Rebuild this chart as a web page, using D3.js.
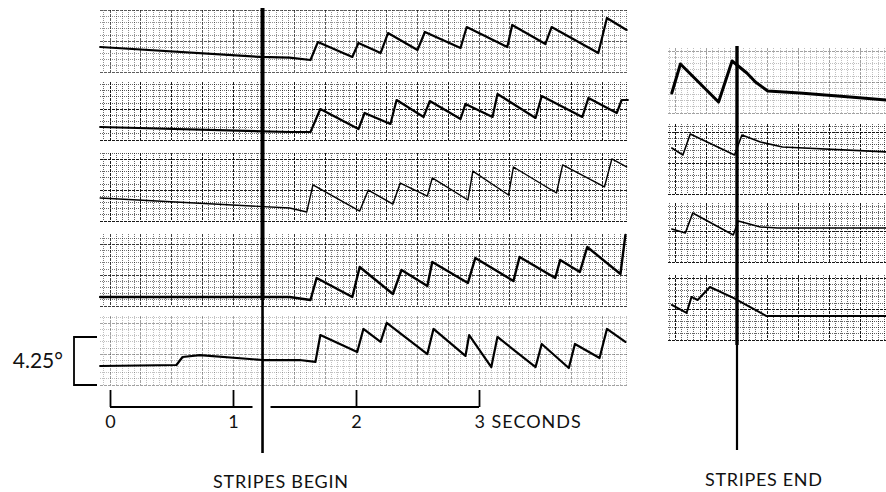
<!DOCTYPE html>
<html>
<head>
<meta charset="utf-8">
<script src="https://cdn.jsdelivr.net/npm/d3@7"></script>
<style>
body { margin: 0; background: #fff; }
svg { display: block; }
text { font-family: Lato, "Noto Sans", sans-serif; fill: #111; }
</style>
</head>
<body>
<div id="chart"></div>
<script>
// eye position traces read off the strips, [time in s, position in deg]
// left block: time from the start of the record
const strip1 = [[-0.08,2.21],[1.22,1.33],[1.46,1.28],[1.63,1.06],[1.69,2.65],[1.97,1.33],[2.02,2.57],[2.20,1.68],[2.26,3.45],[2.50,1.95],[2.56,3.54],[2.85,2.12],[2.90,3.98],[3.23,2.21],[3.27,4.16],[3.54,2.48],[3.59,3.98],[3.97,1.68],[4.04,4.78],[4.20,3.72]];
const strip2 = [[-0.08,1.15],[1.46,0.71],[1.63,0.71],[1.71,2.74],[2.02,0.97],[2.07,2.39],[2.28,1.42],[2.33,3.54],[2.55,2.04],[2.60,3.45],[2.85,1.86],[2.89,3.19],[3.11,2.04],[3.15,4.07],[3.46,1.95],[3.51,3.89],[3.84,2.04],[3.89,3.72],[4.12,2.39],[4.16,3.54],[4.21,3.54]];
const strip3 = [[-0.08,2.04],[1.46,1.15],[1.60,0.80],[1.65,3.19],[2.03,0.88],[2.10,2.74],[2.30,1.50],[2.36,3.36],[2.58,2.21],[2.62,3.81],[2.91,1.86],[2.95,4.42],[3.24,2.30],[3.28,4.78],[3.63,2.48],[3.68,4.96],[4.02,3.01],[4.08,5.49],[4.20,4.78]];
const strip4 = [[-0.08,0.80],[1.46,0.80],[1.63,0.53],[1.68,2.48],[1.97,0.80],[2.03,3.45],[2.30,1.06],[2.37,3.19],[2.58,1.77],[2.62,3.89],[2.91,2.04],[2.97,4.25],[3.28,2.21],[3.33,4.34],[3.62,2.48],[3.66,4.07],[3.82,3.01],[3.88,5.22],[4.15,2.83],[4.19,6.28]];
const strip5 = [[-0.08,1.68],[0.54,1.77],[0.59,2.48],[0.73,2.65],[1.24,2.21],[1.54,2.21],[1.67,2.04],[1.71,4.42],[2.01,2.92],[2.06,4.96],[2.20,3.81],[2.25,5.49],[2.58,2.74],[2.63,4.96],[2.89,2.57],[2.92,4.42],[3.10,1.59],[3.15,4.25],[3.46,1.59],[3.51,3.63],[3.73,1.50],[3.78,3.63],[3.98,2.39],[4.04,4.96],[4.19,3.81]];
// right block: time from the moment the stripes end
const endStrip1 = [[-0.53,1.77],[-0.46,4.34],[-0.15,0.97],[-0.04,4.60],[0.08,3.54],[0.15,2.74],[0.25,1.95],[0.51,1.77],[0.92,1.42],[1.22,1.15]];
const endStrip2 = [[-0.53,4.07],[-0.44,3.45],[-0.38,5.31],[-0.02,3.45],[0.04,5.22],[0.19,4.60],[0.37,4.16],[1.22,3.72]];
const endStrip3 = [[-0.53,2.92],[-0.42,2.57],[-0.36,4.34],[-0.03,2.39],[0.01,3.63],[0.19,3.10],[0.33,3.01],[1.22,3.01]];
const endStrip4 = [[-0.53,3.10],[-0.41,2.39],[-0.37,3.81],[-0.32,3.54],[-0.22,4.69],[-0.03,3.72],[0.24,2.12],[1.22,2.12]];

const beginTraces = [strip1, strip2, strip3, strip4, strip5];
const endTraces = [endStrip1, endStrip2, endStrip3, endStrip4];
const timeTicks = [0, 1, 2, 3];
const stripesBeginAt = 1.24;
const calibrationDeg = 4.25;

// set dimensions
const width = 886, height = 492;
const pxPerDeg = 11.3;

// strip layout (pixels) and how dark the printed grid came out
const beginRows = [
    {top: 10, bottom: 72, ink: 0.7, width: 2.2},
    {top: 82, bottom: 140, ink: 1, width: 2.2},
    {top: 153, bottom: 221, ink: 1, width: 1.4},
    {top: 234, bottom: 306, ink: 0.85, width: 2.4},
    {top: 316, bottom: 385, ink: 0.4, width: 2.2}
];
const endRows = [
    {top: 48, bottom: 113, ink: 0.4, width: 3},
    {top: 124, bottom: 194, ink: 1, width: 1.6},
    {top: 203, bottom: 262, ink: 1, width: 1.6},
    {top: 275, bottom: 340, ink: 1, width: 2}
];

const xBegin = d3.scaleLinear().domain([0, 3]).range([110, 479]);
const xEnd = d3.scaleLinear().domain([0, 1]).range([737, 860]);

const svg = d3.select("#chart")
    .append("svg")
    .attr("width", width)
    .attr("height", height);

svg.append("rect").attr("width", width).attr("height", height).attr("fill", "#fff");

// one strip of chart paper with its trace
const drawStrip = (x, x0, x1, row, trace) => {
    const y = d3.scaleLinear()
        .domain([0, (row.bottom - row.top) / pxPerDeg])
        .range([row.bottom, row.top]);
    const g = svg.append("g");
    const step = 0.05; // one small square
    const cellPx = x(step) - x(0);

    const major = d => d % 5 === 0;
    const styleGrid = sel => sel
        .attr("stroke", "#000")
        .attr("stroke-width", 1)
        .attr("shape-rendering", "crispEdges")
        .attr("stroke-dasharray", d => major(d) ? "3 1" : "1 1")
        .attr("opacity", d => (major(d) ? 0.9 : 0.6) * row.ink);

    const t0 = x.invert(x0), t1 = x.invert(x1);
    const vs = d3.range(Math.ceil(t0 / step), Math.floor(t1 / step) + 1);
    g.selectAll(".v")
        .data(vs)
        .enter()
        .append("line")
        .attr("x1", d => x(d * step)).attr("x2", d => x(d * step))
        .attr("y1", row.top).attr("y2", row.bottom)
        .call(styleGrid);

    const hs = d3.range(0, Math.floor((row.bottom - row.top) / cellPx) + 1);
    g.selectAll(".h")
        .data(hs)
        .enter()
        .append("line")
        .attr("x1", x0).attr("x2", x1)
        .attr("y1", d => row.bottom - d * cellPx).attr("y2", d => row.bottom - d * cellPx)
        .call(styleGrid);

    const line = d3.line()
        .x(d => x(d[0]))
        .y(d => y(d[1]));

    g.append("path")
        .datum(trace)
        .attr("d", line)
        .attr("fill", "none")
        .attr("stroke", "#000")
        .attr("stroke-width", row.width)
        .attr("stroke-linejoin", "round")
        .attr("stroke-linecap", "round");
    return y;
};

let y5;
beginTraces.forEach((trace, i) => {
    const y = drawStrip(xBegin, 100, 628, beginRows[i], trace);
    if (i === 4) y5 = y;
});
endTraces.forEach((trace, i) => {
    drawStrip(xEnd, 668, 886, endRows[i], trace);
});

// stimulus markers
const markX = xBegin(stripesBeginAt);
svg.append("line").attr("x1", markX).attr("x2", markX).attr("y1", 8).attr("y2", 300)
    .attr("stroke", "#000").attr("stroke-width", 4);
svg.append("line").attr("x1", markX).attr("x2", markX).attr("y1", 300).attr("y2", 453)
    .attr("stroke", "#000").attr("stroke-width", 2.6);
const endX = xEnd(0);
svg.append("line").attr("x1", endX).attr("x2", endX).attr("y1", 46).attr("y2", 345)
    .attr("stroke", "#000").attr("stroke-width", 3.4);
svg.append("line").attr("x1", endX).attr("x2", endX).attr("y1", 345).attr("y2", 450)
    .attr("stroke", "#000").attr("stroke-width", 2.2);

// time scale, broken where the marker crosses it
const axisY = 407;
const axis = d3.axisBottom(xBegin)
    .tickValues(timeTicks)
    .tickSize(-17)
    .tickPadding(8)
    .tickFormat(d => d);
const ax = svg.append("g")
    .attr("transform", `translate(0,${axisY})`)
    .call(axis);
ax.select(".domain").remove();
ax.selectAll(".tick line").attr("stroke", "#000").attr("stroke-width", 1.8);
ax.selectAll(".tick text")
    .attr("font-family", "Lato, 'Noto Sans', sans-serif")
    .attr("font-size", 18)
    .attr("fill", "#111");
ax.selectAll(".tick").filter(d => d === 3).select("text")
    .attr("text-anchor", "start")
    .attr("dx", -5)
    .text("3 SECONDS")
    .attr("letter-spacing", 1);
ax.append("line").attr("x1", xBegin(0)).attr("x2", markX - 10)
    .attr("stroke", "#000").attr("stroke-width", 2);
ax.append("line").attr("x1", markX + 8).attr("x2", xBegin(3))
    .attr("stroke", "#000").attr("stroke-width", 2);

// amplitude calibration
const calTop = y5(calibrationDeg), calBottom = y5(0);
svg.append("path")
    .attr("d", `M97,${calTop}H74V${calBottom}H97`)
    .attr("fill", "none")
    .attr("stroke", "#000")
    .attr("stroke-width", 1.8);
svg.append("text")
    .attr("x", 63)
    .attr("y", (calTop + calBottom) / 2 + 7)
    .attr("text-anchor", "end")
    .attr("font-size", 21)
    .text("4.25°");

// captions
svg.append("text")
    .attr("x", 213).attr("y", 488)
    .attr("font-size", 18)
    .attr("textLength", 135)
    .attr("lengthAdjust", "spacing")
    .text("STRIPES BEGIN");
svg.append("text")
    .attr("x", 705).attr("y", 486)
    .attr("font-size", 18)
    .attr("textLength", 117)
    .attr("lengthAdjust", "spacing")
    .text("STRIPES END");
</script>
</body>
</html>
